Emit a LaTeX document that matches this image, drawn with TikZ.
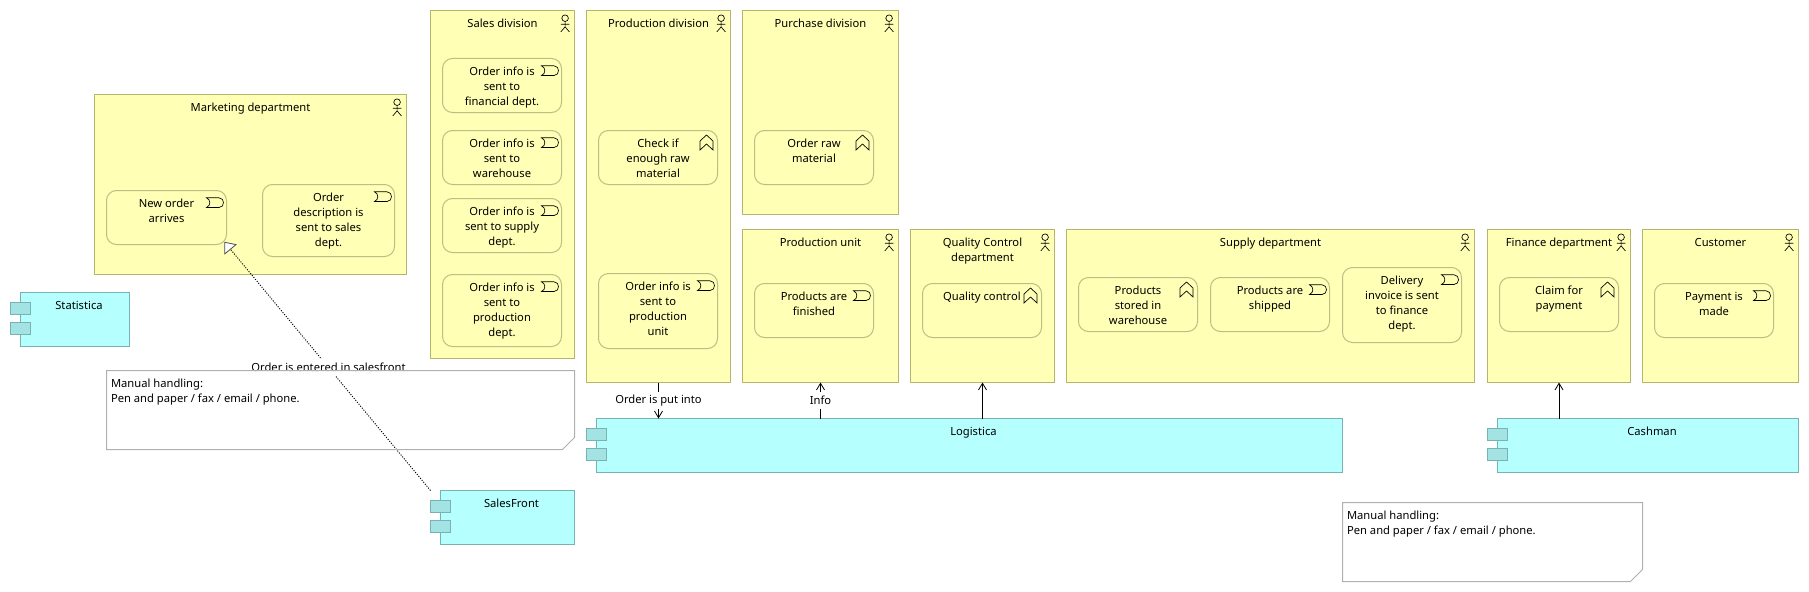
\documentclass[tikz,border=0pt]{standalone}
\usepackage{fontspec}
\setmainfont{Noto Sans}
\usetikzlibrary{arrows.meta}
\definecolor{yfill}{HTML}{FFFFB5}
\definecolor{yline}{HTML}{B5B56B}
\definecolor{rline}{HTML}{BDBD85}
\definecolor{cfill}{HTML}{B5FFFF}
\definecolor{cline}{HTML}{78B2B2}
\definecolor{tfill}{HTML}{A3E3E3}
\definecolor{nline}{HTML}{B0B0B0}
\newcommand{\txtfont}{\fontsize{8.4}{11.25}\selectfont}
\tikzset{
  basebox/.style={inner sep=0pt,outer sep=0pt,line width=0.75pt,anchor=north west},
  actorbox/.style={basebox,draw=yline,fill=yfill},
  procbox/.style={basebox,draw=rline,fill=yfill,rounded corners=7.5pt},
  compbox/.style={basebox,draw=cline,fill=cfill},
  tabbox/.style={basebox,draw=cline,fill=tfill,minimum width=15.3pt,minimum height=9.1pt},
  notebox/.style={basebox,fill=white},
  noteline/.style={draw=nline,line width=0.75pt},
  icon/.style={draw=black,line width=0.5pt,line join=miter},
  flow/.style={draw=black,line width=0.75pt,-{Straight Barb[length=5pt,width=6pt,line width=0.6pt]}},
  realize/.style={draw=black,line width=0.7pt,dash pattern=on 0.8pt off 1.1pt,
    -{Triangle[length=7.5pt,width=12pt,line width=0.6pt,color=black!70,fill=white]},shorten >=-2.6pt},
  linklabel/.style={fill=white,inner xsep=1pt,inner ysep=0pt,minimum height=12.75pt,font=\txtfont},
}
% style, name, x1, y1, x2, y2, text
\newcommand{\cell}[7]{%
  \pgfmathsetlengthmacro\bxw{(#5-#3)*0.75}%
  \pgfmathsetlengthmacro\bxh{(#6-#4)*0.75}%
  \node[#1] (#2) at (#3,#4) {\parbox[c][\bxh][t]{\bxw}{\txtfont\centering\rule{0pt}{12.4pt}#7}};}
\newcommand{\actoricon}[1]{%
  \begin{scope}[shift={(#1.north east)}]
    \draw[icon] (-9.4,7.7) circle (3.3);
    \draw[icon] (-9.4,11) -- (-9.4,16.4) -- (-13.7,21.4) (-9.4,16.4) -- (-5.1,21.4) (-13.7,13.7) -- (-5.1,13.7);
  \end{scope}}
\newcommand{\evticon}[1]{%
  \begin{scope}[shift={(#1.north east)}]
    \draw[icon] (-20,7.3) -- (-7.5,7.3) .. controls (-1.5,7.3) and (-1.5,17) .. (-7.5,17) -- (-20,17)
      .. controls (-15.5,15) and (-15.5,9.3) .. cycle;
  \end{scope}}
\newcommand{\funicon}[1]{%
  \begin{scope}[shift={(#1.north east)}]
    \draw[icon] (-11,4.5) -- (-4.5,10.5) -- (-4.5,19.5) -- (-11,13.5) -- (-17.5,19.5) -- (-17.5,10.5) -- cycle;
  \end{scope}}
% name, tabx, mainx, y1, x2, y2, text
\newcommand{\comp}[7]{%
  \cell{compbox}{#1}{#3}{#4}{#5}{#6}{\hspace*{6pt}#7}
  \node[tabbox] (#1-a) at (#2,#4+10) {};
  \node[tabbox] (#1-b) at (#2,#4+30) {};}
% name, x1, y1, x2, y2, text
\newcommand{\notecell}[6]{%
  \pgfmathsetlengthmacro\bxw{(#4-#2)*0.75}%
  \pgfmathsetlengthmacro\bxh{(#5-#3)*0.75}%
  \node[notebox] (#1) at (#2,#3) {\parbox[c][\bxh][t]{\bxw}{\txtfont\raggedright\leftskip=3.4pt\rule{0pt}{12.4pt}#6}};}
\newcommand{\noteoutline}[1]{%
  \draw[noteline] (#1.north west) -- (#1.north east) -- ([yshift=9pt]#1.south east)
    -- ([xshift=-9pt]#1.south east) -- (#1.south west) -- cycle;}
\begin{document}
\begin{tikzpicture}[x=0.75pt,y=-0.75pt]
\useasboundingbox (0,0) rectangle (1809,592);
\fill[white] (0,0) rectangle (1809,592);

% actors and their processes
\cell{actorbox}{mkt}{94.5}{94.5}{406.5}{274.5}{Marketing department}
\actoricon{mkt}
\cell{procbox}{neworder}{106.5}{190.5}{226.5}{244.5}{New order\\arrives}
\evticon{neworder}
\cell{procbox}{orderdesc}{262.5}{184.5}{394.5}{256.5}{Order\\description is\\sent to sales\\dept.}
\evticon{orderdesc}

\cell{actorbox}{sales}{430.5}{10.5}{574.5}{358.5}{Sales division}
\actoricon{sales}
\cell{procbox}{sfin}{442.5}{58.5}{561.5}{112.5}{Order info is\\sent to\\financial dept.}
\evticon{sfin}
\cell{procbox}{swh}{442.5}{130.5}{561.5}{184.5}{Order info is\\sent to\\warehouse}
\evticon{swh}
\cell{procbox}{ssup}{442.5}{198.5}{561.5}{252.5}{Order info is\\sent to supply\\dept.}
\evticon{ssup}
\cell{procbox}{sprod}{442.5}{274.5}{561.5}{346.5}{Order info is\\sent to\\production\\dept.}
\evticon{sprod}

\cell{actorbox}{proddiv}{586.5}{10.5}{730.5}{382.5}{Production division}
\actoricon{proddiv}
\cell{procbox}{check}{598.5}{130.5}{717.5}{184.5}{Check if\\enough raw\\material}
\funicon{check}
\cell{procbox}{pinfo}{598.5}{273.5}{717.5}{348.5}{Order info is\\sent to\\production\\unit}
\evticon{pinfo}

\cell{actorbox}{purch}{742.5}{10.5}{898.5}{214.5}{Purchase division}
\actoricon{purch}
\cell{procbox}{raw}{754.5}{130.5}{873.5}{184.5}{Order raw\\material}
\funicon{raw}

\cell{actorbox}{unit}{742.5}{229.5}{898.5}{382.5}{Production unit}
\actoricon{unit}
\cell{procbox}{finished}{754.5}{283.5}{873.5}{337.5}{Products are\\finished}
\evticon{finished}

\cell{actorbox}{qc}{910.5}{229.5}{1054.5}{382.5}{Quality Control\\department}
\actoricon{qc}
\cell{procbox}{qcontrol}{922.5}{283.5}{1041.5}{337.5}{Quality control}
\funicon{qcontrol}

\cell{actorbox}{supply}{1066.5}{229.5}{1474.5}{382.5}{Supply department}
\actoricon{supply}
\cell{procbox}{stored}{1078.5}{277.5}{1197.5}{331.5}{Products\\stored in\\warehouse}
\funicon{stored}
\cell{procbox}{shipped}{1210.5}{277.5}{1329.5}{331.5}{Products are\\shipped}
\evticon{shipped}
\cell{procbox}{invoice}{1342.5}{267.5}{1461.5}{342.5}{Delivery\\invoice is sent\\to finance\\dept.}
\evticon{invoice}

\cell{actorbox}{finance}{1487.5}{229.5}{1630.5}{382.5}{Finance department}
\actoricon{finance}
\cell{procbox}{claim}{1499.5}{277.5}{1618.5}{331.5}{Claim for\\payment}
\funicon{claim}

\cell{actorbox}{customer}{1642.5}{229.5}{1798.5}{382.5}{Customer}
\actoricon{customer}
\cell{procbox}{payment}{1654.5}{283.5}{1773.5}{337.5}{Payment is\\made}
\evticon{payment}

% applications
\comp{statistica}{10.5}{20.5}{292.5}{129.5}{346.5}{Statistica}
\comp{logistica}{586.5}{596.5}{418.5}{1342.5}{472.5}{Logistica}
\comp{cashman}{1487.5}{1497.5}{418.5}{1798.5}{472.5}{Cashman}
\comp{salesfront}{430.5}{440.5}{490.5}{574.5}{544.5}{SalesFront}

% notes
\notecell{note1}{106.5}{370.5}{574.5}{449.5}{Manual handling:\\Pen and paper / fax / email / phone.}
\notecell{note2}{1342.5}{502.5}{1642.5}{581.5}{Manual handling:\\Pen and paper / fax / email / phone.}
\noteoutline{note2}

% connectors
\coordinate (sfcorner) at (salesfront-a.west |- salesfront.north);
\draw[realize] (sfcorner) -- node[midway,linklabel] (entered) {Order is entered in salesfront} (neworder.south east);
\noteoutline{note1}
\draw[flow] (proddiv.south) -- node[midway,linklabel] (putinto) {Order is put into} (proddiv.south |- logistica.north);
\draw[flow] (logistica.north -| unit.south) -- node[midway,linklabel] (infolabel) {Info} (unit.south);
\draw[flow] (logistica.north -| qc.south) -- (qc.south);
\draw[flow] (cashman.north -| finance.south) -- (finance.south);
\end{tikzpicture}
\end{document}
